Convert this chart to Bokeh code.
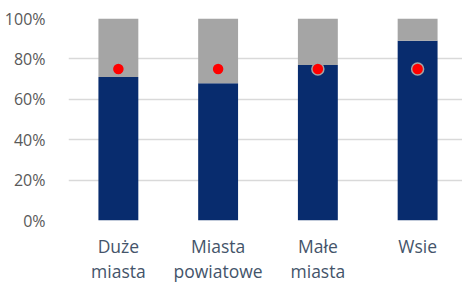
from bokeh.plotting import figure
from bokeh.models import ColumnDataSource, Range1d, FixedTicker, NumeralTickFormatter, LinearAxis
from bokeh.embed import file_html
from bokeh.resources import INLINE

categories_line1 = ["Duże", "Miasta", "Małe", "Wsie"]
categories_line2 = ["miasta", "powiatowe", "miasta", ""]
share_yes = [0.71, 0.68, 0.77, 0.89]
share_rest = [0.29, 0.32, 0.23, 0.11]
target = [0.75, 0.75, 0.75, 0.75]
y_ticks = [0, 0.2, 0.4, 0.6, 0.8, 1.0]

xs = [i + 0.5 for i in range(len(categories_line1))]
src = ColumnDataSource(dict(x=xs, yes=share_yes, rest=share_rest, target=target))

p = figure(frame_width=394, frame_height=202, output_backend="svg", toolbar_location=None,
           x_range=Range1d(0, 3.95), y_range=Range1d(0, 1),
           min_border_left=68, min_border_top=18, min_border_right=0, min_border_bottom=63)
p.outline_line_color = None
p.background_fill_color = "white"

p.vbar_stack(["yes", "rest"], x="x", width=0.4, source=src,
             color=["#082C6E", "#A5A5A5"], line_color=None)
p.scatter(x="x", y="target", source=src, size=12, fill_color="#FF0000",
          line_color="#A5A5A5", line_width=1.5)

p.xgrid.grid_line_color = None
p.ygrid.grid_line_color = "#D9D9D9"
p.ygrid.grid_line_width = 1.5
p.ygrid.ticker = FixedTicker(ticks=y_ticks)

p.yaxis.ticker = FixedTicker(ticks=y_ticks)
p.yaxis.formatter = NumeralTickFormatter(format="0%")
p.yaxis.axis_line_color = None
p.yaxis.major_tick_line_color = None
p.yaxis.minor_tick_line_color = None
p.yaxis.major_label_text_color = "#595959"
p.yaxis.major_label_text_font = "Open Sans"
p.yaxis.major_label_text_font_size = "16px"
p.yaxis.major_label_standoff = 17


def style_x(ax, labels, standoff):
    ax.ticker = FixedTicker(ticks=xs)
    ax.major_label_overrides = {x: c for x, c in zip(xs, labels)}
    ax.axis_line_color = None
    ax.major_tick_line_color = None
    ax.minor_tick_line_color = None
    ax.major_label_text_color = "#44546A"
    ax.major_label_text_font = "Open Sans"
    ax.major_label_text_font_size = "17.5px"
    ax.major_label_standoff = standoff


style_x(p.xaxis[0], categories_line1, 7)
ax2 = LinearAxis()
style_x(ax2, categories_line2, -8)
p.add_layout(ax2, "below")

open("out.html", "w").write(file_html(p, INLINE))
